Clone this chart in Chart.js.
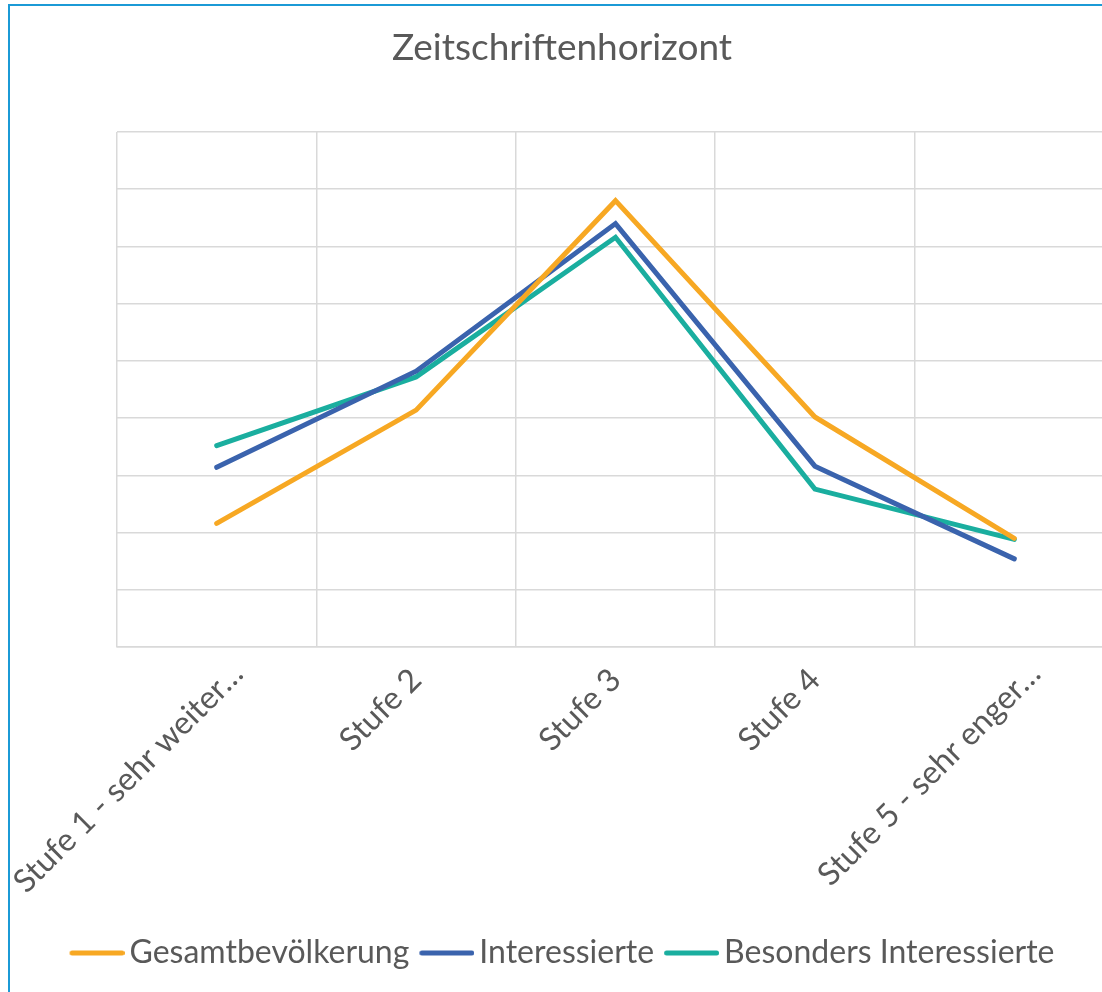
<!DOCTYPE html>
<html>
<head>
<meta charset="utf-8">
<script src="https://cdn.jsdelivr.net/npm/chart.js@4"></script>
<style>
  html, body { margin: 0; padding: 0; overflow: hidden; background: #fff; }
  #frame { position: absolute; left: 8px; top: 4px; width: 1104px; height: 986px;
           border-left: 2px solid #1b9ad6; border-top: 2px solid #1b9ad6; }
  canvas { display: block; }
</style>
</head>
<body>
<div id="frame"><canvas id="chart" width="1104" height="986"></canvas></div>
<script>
// categories and series (percent)
const categories = ['Stufe 1 - sehr weiter…', 'Stufe 2', 'Stufe 3', 'Stufe 4', 'Stufe 5 - sehr enger…'];
const gesamt = [10.8, 20.7, 39.0, 20.1, 9.5];
const interessierte = [15.7, 24.1, 37.0, 15.8, 7.7];
const besonders = [17.6, 23.6, 35.8, 13.8, 9.4];

const textColor = '#595959';
const gridColor = '#d9d9d9';

// legend marker: a short line, shifted right so it sits close to the text
function legendLine(color) {
  const c = document.createElement('canvas');
  c.width = 66;
  c.height = 8;
  const g = c.getContext('2d');
  g.strokeStyle = color;
  g.lineWidth = 5;
  g.lineCap = 'round';
  g.beginPath();
  g.moveTo(13.5, 4);
  g.lineTo(63.5, 4);
  g.stroke();
  return c;
}

function series(label, values, color) {
  return {
    label: label,
    data: values,
    borderColor: color,
    backgroundColor: color,
    borderWidth: 5,
    borderCapStyle: 'round',
    pointRadius: 0,
    pointStyle: legendLine(color),
    tension: 0
  };
}

// the truncated (long) labels sit a bit further up-right, like in Excel
const shiftLongLabels = {
  id: 'shiftLongLabels',
  afterLayout(chart) {
    const items = chart.scales.x.getLabelItems();
    items.forEach((item, i) => {
      if (categories[i] && categories[i].endsWith('…')) {
        const t = item.options.translation;
        item.options.translation = [t[0] + 21, t[1] - 6];
      }
    });
  }
};

const ctx = document.getElementById('chart').getContext('2d');

new Chart(ctx, {
  type: 'line',
  data: {
    labels: categories,
    datasets: [
      series('Gesamtbevölkerung', gesamt, '#f7a823'),
      series('Interessierte', interessierte, '#3a63ad'),
      series('Besonders Interessierte', besonders, '#1aae9f')
    ]
  },
  options: {
    responsive: false,
    animation: false,
    layout: { padding: { left: 0, right: 0, top: 0, bottom: 13 } },
    plugins: {
      title: {
        display: true,
        text: 'Zeitschriftenhorizont',
        color: textColor,
        font: { family: 'Lato', size: 37, weight: 'normal' },
        padding: { top: 20, bottom: 61.6 }
      },
      legend: {
        position: 'bottom',
        labels: {
          usePointStyle: true,
          pointStyleWidth: 44,
          boxHeight: 8,
          padding: 10,
          color: textColor,
          font: { family: 'Lato', size: 32 }
        }
      },
      tooltip: { enabled: false }
    },
    scales: {
      x: {
        offset: true,
        grid: { offset: true, color: gridColor, lineWidth: 1.5, drawTicks: false },
        border: { color: gridColor, width: 1.5 },
        ticks: {
          minRotation: 45, maxRotation: 45, autoSkip: false, padding: 14,
          color: textColor, font: { family: 'Lato', size: 32 }
        },
        afterFit: s => { s.paddingLeft = 0; s.paddingRight = 0; s.height = 280; }
      },
      y: {
        min: 0,
        max: 45,
        ticks: { display: false, stepSize: 5 },
        grid: { color: gridColor, lineWidth: 1.5, drawTicks: false },
        border: { display: false },
        afterFit: s => { s.width = 107; }
      }
    }
  },
  plugins: [shiftLongLabels]
});
</script>
</body>
</html>
